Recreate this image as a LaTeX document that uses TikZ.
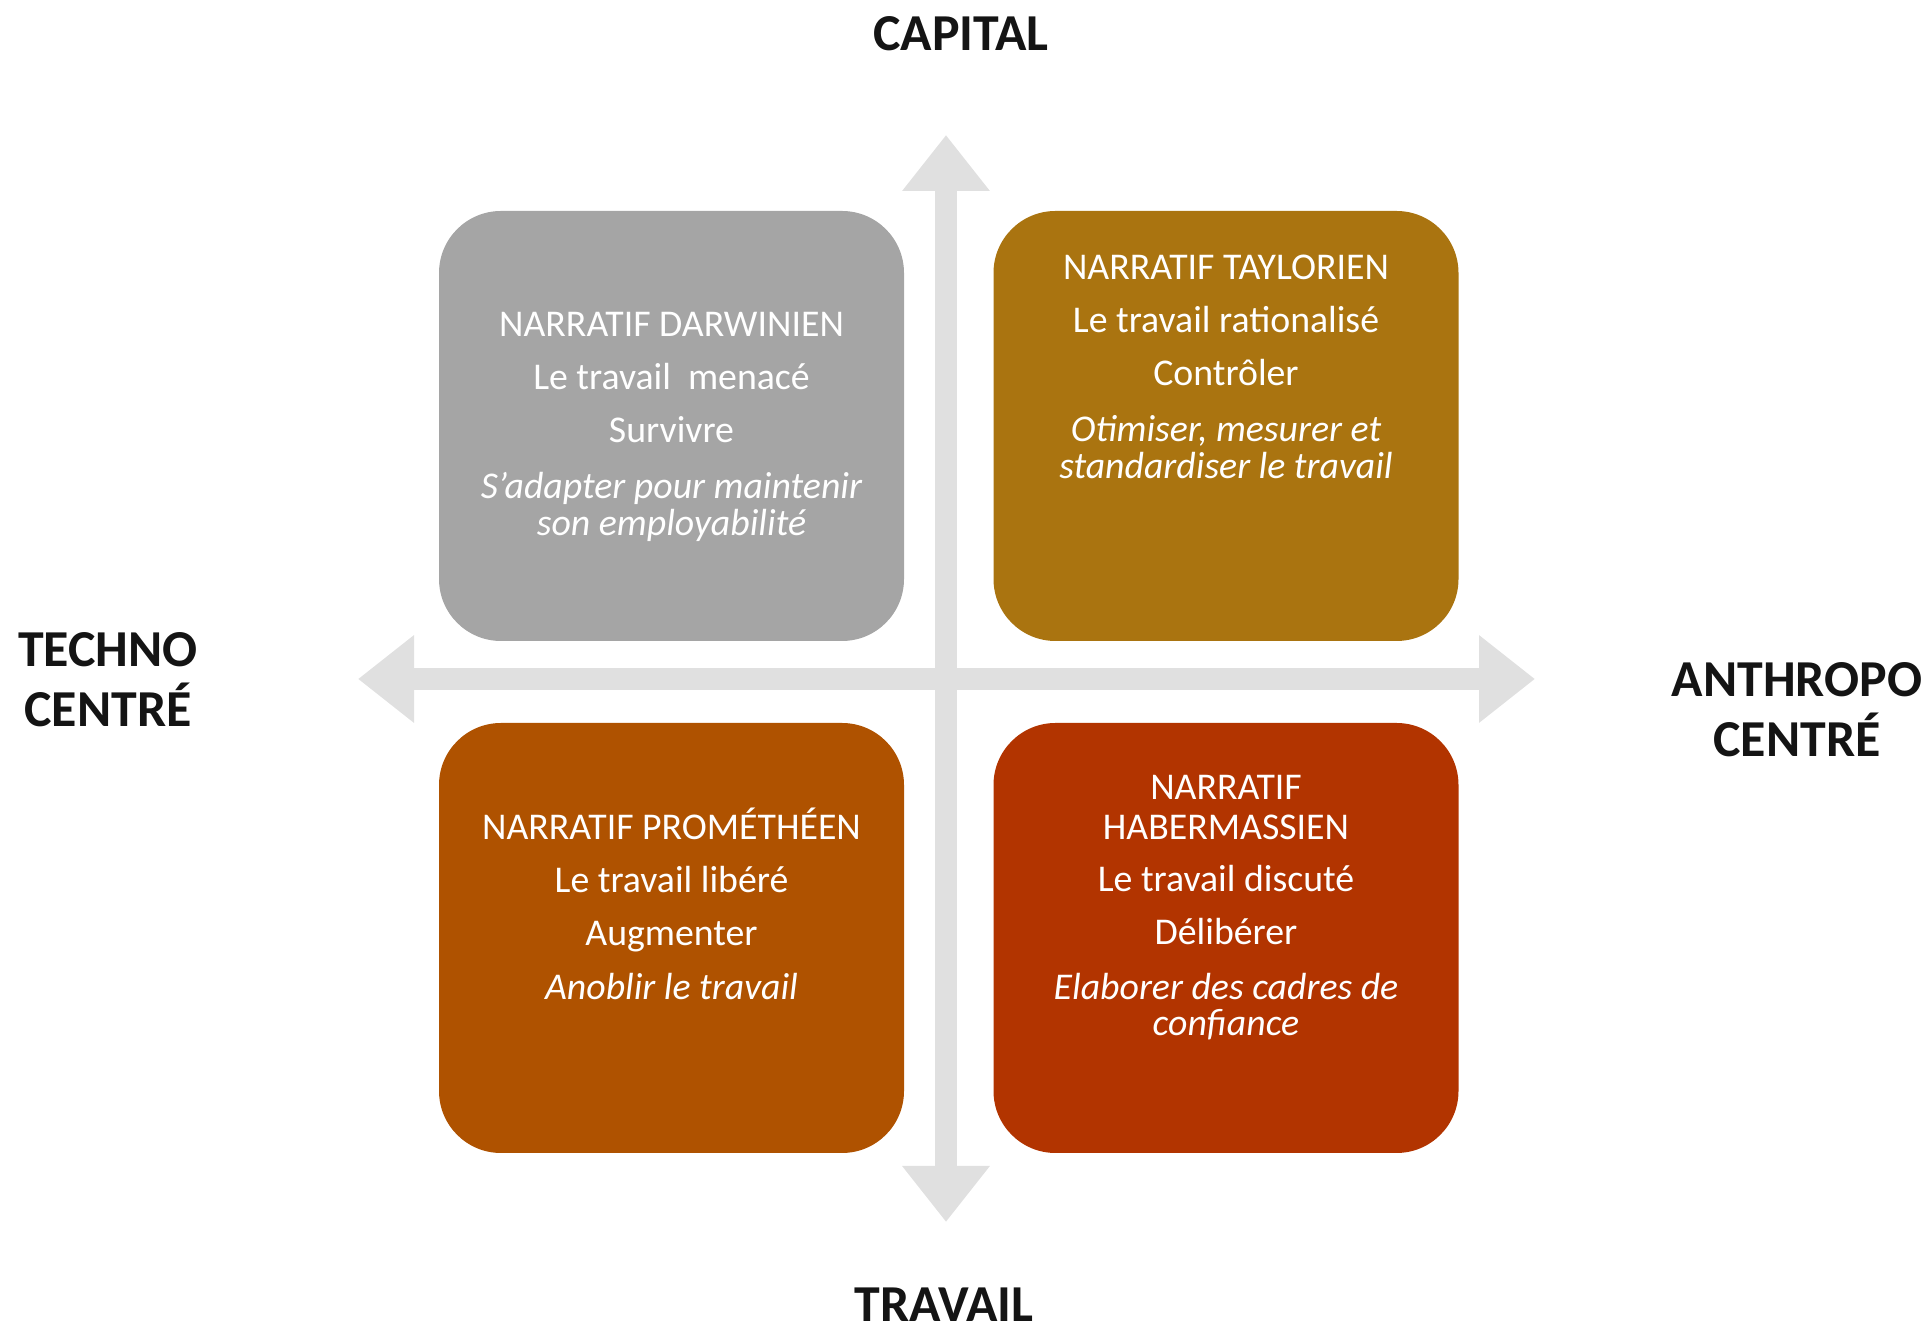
\documentclass[tikz,border=0pt]{standalone}
\usepackage{fontspec}
\setmainfont{Carlito}
\usetikzlibrary{arrows.meta}
\definecolor{axisgray}{RGB}{224,224,224}
\definecolor{darwgray}{RGB}{165,165,165}
\definecolor{taylgold}{RGB}{170,116,16}
\definecolor{promorange}{RGB}{175,82,0}
\definecolor{haberred}{RGB}{178,52,0}
\definecolor{labelblack}{RGB}{20,20,20}
\begin{document}
\begin{tikzpicture}[line cap=round,line join=round,x=1cm,y=1cm,
  axisarrow/.style={line width=0.44cm,draw=axisgray,line cap=butt,
    {Triangle[length=1.12cm,width=1.68cm]}-{Triangle[length=1.12cm,width=1.68cm]}},
  narrbox/.style={rounded corners=1.24cm,minimum width=9.3cm,minimum height=8.6cm,inner sep=0pt},
  narrtext/.style={anchor=north,align=center,text=white,inner sep=0pt,
    font=\fontsize{21.5}{22.5}\selectfont},
  axislabel/.style={align=center,text=labelblack,inner sep=0pt,
    font=\fontsize{29.5}{34}\selectfont\bfseries}]
\useasboundingbox (0.,0.) rectangle (38.58,26.7);
% axes
\coordinate (vbot) at (18.92,2.26);
\coordinate (vtop) at (18.92,24.);
\coordinate (hleft) at (7.16,13.12);
\coordinate (hright) at (30.7,13.12);
\draw [axisarrow] (vbot) -- (vtop);
\draw [axisarrow] (hleft) -- (hright);
% quadrants
\node [narrbox,fill=darwgray] (darwin) at (13.43,18.18) {};
\node [narrbox,fill=taylgold] (taylor) at (24.52,18.18) {};
\node [narrbox,fill=promorange] (promet) at (13.43,7.94) {};
\node [narrbox,fill=haberred] (haberm) at (24.52,7.94) {};
\node [narrtext] (darwintxt) at (13.43,20.46) {NARRATIF DARWINIEN\\[7.5pt]
  Le travail~ menacé\\[7.5pt] Survivre\\[9.5pt]
  {\itshape S’adapter pour maintenir}\\[-1.5pt] {\itshape son employabilité}};
\node [narrtext] (taylortxt) at (24.52,21.6) {NARRATIF TAYLORIEN\\[7.5pt]
  Le travail rationalisé\\[7.5pt] Contrôler\\[9.5pt]
  {\itshape Otimiser, mesurer et}\\[-1.5pt] {\itshape standardiser le travail}};
\node [narrtext] (promettxt) at (13.43,10.54) {NARRATIF PROMÉTHÉEN\\[7.5pt]
  Le travail libéré\\[7.5pt] Augmenter\\[8.5pt]
  {\itshape Anoblir le travail}};
\node [narrtext] (habermtxt) at (24.52,11.2) {NARRATIF\\[0pt] HABERMASSIEN\\[7.5pt]
  Le travail discuté\\[7.5pt] Délibérer\\[8.5pt]
  {\itshape Elaborer des cadres de}\\[-1.5pt] {\itshape confiance}};
% axis labels
\node [axislabel] (capital) at (19.22,26.02) {CAPITAL};
\node [axislabel] (travail) at (18.88,0.6) {TRAVAIL};
\node [axislabel] (techno) at (2.16,13.1) {TECHNO\\CENTRÉ};
\node [axislabel] (anthropo) at (35.94,12.5) {ANTHROPO\\CENTRÉ};
\end{tikzpicture}
\end{document}
